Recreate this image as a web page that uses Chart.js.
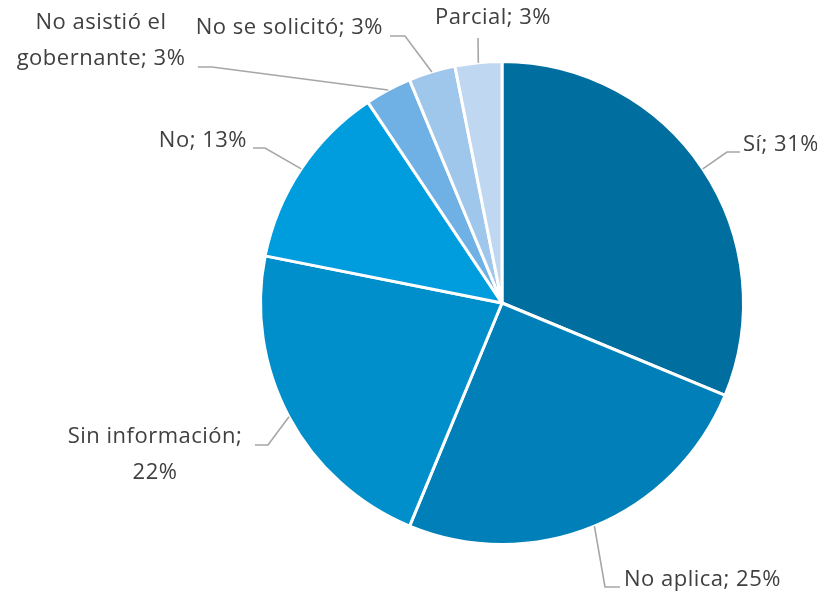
<!DOCTYPE html>
<html>
<head>
<meta charset="utf-8">
<script src="https://cdn.jsdelivr.net/npm/chart.js@4"></script>
<style>
  html, body { margin: 0; padding: 0; background: #fff; }
  #wrap { width: 817px; height: 593px; }
</style>
</head>
<body>
<div id="wrap"><canvas id="chartCanvas" width="817" height="593"></canvas></div>
<script>
/********** DATI **********/
const categories = ["Sí", "No aplica", "Sin información", "No", "No asistió el gobernante", "No se solicitó", "Parcial"];
const counts = [10, 8, 7, 4, 1, 1, 1];
const sliceColors = ["#006E9F", "#007FB9", "#008FCB", "#009DDE", "#6FB1E4", "#9FC6EB", "#C0D7F1"];

/********** POSIZIONE DELLE ETICHETTE (gomito della linea + testo) **********/
// elbow: punto di piega, stub: fine del tratto orizzontale, text: ancora del testo
const labelLayout = [
  { elbow: [727, 152], stub: [740, 152], text: [743, 145], align: "left",   lines: ["Sí; 31%"] },
  { elbow: [605, 587], stub: [620, 587], text: [624, 580], align: "left",   lines: ["No aplica; 25%"] },
  { elbow: [268, 445], stub: [255, 445], text: [155, 437], align: "center", lines: ["Sin información;", "22%"] },
  { elbow: [265, 148], stub: [253, 148], text: [247, 141], align: "right",  lines: ["No; 13%"] },
  { elbow: [212, 67],  stub: [198, 67],  text: [101, 23],  align: "center", lines: ["No asistió el", "gobernante; 3%"] },
  { elbow: [405, 36],  stub: [390, 36],  text: [383, 28],  align: "right",  lines: ["No se solicitó; 3%"] },
  { elbow: [478, 38],  stub: [478, 38],  text: [493, 18],  align: "center", lines: ["Parcial; 3%"] }
];

const fontFamily = "'Open Sans', 'DejaVu Sans', sans-serif";

// Plugin per etichette esterne con linee guida
const outsideLabels = {
  id: "outsideLabels",
  afterDatasetsDraw(chart) {
    const ctx = chart.ctx;
    const arcs = chart.getDatasetMeta(0).data;
    ctx.save();
    arcs.forEach((arc, i) => {
      const lay = labelLayout[i];
      const mid = (arc.startAngle + arc.endAngle) / 2;
      const sx = arc.x + Math.cos(mid) * arc.outerRadius;
      const sy = arc.y + Math.sin(mid) * arc.outerRadius;
      ctx.beginPath();
      ctx.strokeStyle = "#A6A6A6";
      ctx.lineWidth = 1.6;
      ctx.moveTo(sx, sy);
      ctx.lineTo(lay.elbow[0], lay.elbow[1]);
      ctx.lineTo(lay.stub[0], lay.stub[1]);
      ctx.stroke();

      ctx.fillStyle = "#404040";
      ctx.font = "22px " + fontFamily;
      ctx.letterSpacing = "0.5px";
      ctx.textAlign = lay.align;
      ctx.textBaseline = "middle";
      lay.lines.forEach((t, k) => {
        ctx.fillText(t, lay.text[0], lay.text[1] + k * 36);
      });
    });
    ctx.restore();
  }
};

const ctx = document.getElementById("chartCanvas").getContext("2d");
new Chart(ctx, {
  type: "pie",
  data: {
    labels: categories,
    datasets: [{
      data: counts,
      backgroundColor: sliceColors,
      borderColor: "#FFFFFF",
      borderWidth: 3
    }]
  },
  options: {
    responsive: false,
    animation: false,
    layout: { padding: { top: 60, bottom: 47, left: 259, right: 72 } },
    plugins: {
      legend: { display: false },
      tooltip: { enabled: false }
    }
  },
  plugins: [outsideLabels]
});
</script>
</body>
</html>
